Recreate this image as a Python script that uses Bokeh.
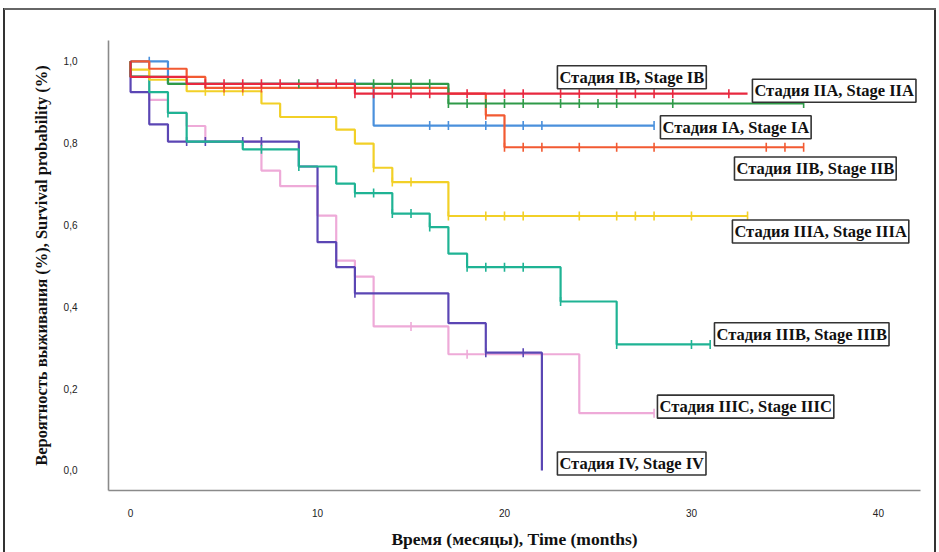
import numpy as np
from bokeh.plotting import figure
from bokeh.models import Label, CustomJSTickFormatter, FixedTicker, Range1d
from bokeh.embed import file_html
from bokeh.resources import INLINE

# ---- data ----
ia_t = [0, 2, 13, 28]
ia_s = [1.0, 0.945, 0.843, 0.843]
ia_c = [1, 10, 12, 16, 17, 19, 21, 22, 28]

ib_t = [0, 0, 3, 12, 33]
ib_s = [1.0, 0.962, 0.945, 0.921, 0.921]
ib_c = [4, 5, 6, 7, 8, 10, 11, 12, 13, 14, 15, 16, 18, 20, 21, 23, 24, 26, 27, 28, 29, 32]

iia_t = [0, 0, 2, 17, 36]
iia_s = [1.0, 0.962, 0.945, 0.897, 0.897]
iia_c = [9, 13, 14, 15, 16, 17, 18, 19, 20, 21, 23, 24, 25, 26, 29, 36]

iib_t = [0, 1, 3, 4, 17, 19, 20, 36]
iib_s = [1.0, 0.982, 0.962, 0.935, 0.921, 0.868, 0.79, 0.79]
iib_c = [5, 6, 7, 19, 20, 21, 22, 24, 26, 28, 34, 35, 36]

iiia_t = [0, 0, 1, 3, 7, 8, 11, 12, 13, 14, 17, 33]
iiia_s = [1.0, 0.98, 0.955, 0.927, 0.897, 0.864, 0.833, 0.799, 0.74, 0.705, 0.622, 0.622]
iiia_c = [4, 5, 6, 13, 14, 15, 17, 19, 20, 21, 24, 26, 27, 28, 30, 33]

iiib_t = [0, 0, 1, 2, 3, 6, 9, 11, 12, 14, 16, 17, 18, 23, 26, 31]
iiib_s = [1.0, 0.963, 0.925, 0.874, 0.804, 0.785, 0.743, 0.701, 0.678, 0.628, 0.595,
          0.53, 0.497, 0.413, 0.308, 0.308]
iiib_c = [2, 7, 9, 12, 13, 14, 15, 16, 18, 19, 20, 21, 23, 26, 30, 31]

iiic_t = [0, 1, 2, 3, 4, 7, 8, 10, 11, 12, 13, 17, 24, 28]
iiic_s = [1.0, 0.906, 0.874, 0.842, 0.804, 0.733, 0.695, 0.623, 0.513, 0.474, 0.352,
          0.284, 0.14, 0.14]
iiic_c = [15, 18, 28]

iv_t = [0, 0, 1, 2, 9, 10, 11, 12, 17, 19, 22, 22]
iv_s = [1.0, 0.925, 0.846, 0.804, 0.743, 0.558, 0.497, 0.433, 0.36, 0.288, 0.288, 0.0]
iv_c = [3, 4, 6, 7, 12, 19, 21]

x_ticks = [0, 10, 20, 30, 40]
y_ticks = [0.0, 0.2, 0.4, 0.6, 0.8, 1.0]

labels = ["Стадия IA, Stage IA", "Стадия IB, Stage IB", "Стадия IIA, Stage IIA",
          "Стадия IIB, Stage IIB", "Стадия IIIA, Stage IIIA", "Стадия IIIB, Stage IIIB",
          "Стадия IIIC, Stage IIIC", "Стадия IV, Stage IV"]
x_title = "Время (месяцы), Time (months)"
y_title = "Вероятность выживания (%), Survival probability (%)"

curves = [
    (iiic_t, iiic_s, iiic_c, "#eeaad8"),
    (iv_t, iv_s, iv_c, "#5b46b4"),
    (iiib_t, iiib_s, iiib_c, "#1fb394"),
    (iiia_t, iiia_s, iiia_c, "#f2d027"),
    (ia_t, ia_s, ia_c, "#4a90dc"),
    (iib_t, iib_s, iib_c, "#f25a32"),
    (iia_t, iia_s, iia_c, "#2f9a48"),
    (ib_t, ib_s, ib_c, "#e8283f"),
]

p = figure(width=939, height=552, output_backend="svg", toolbar_location=None,
           x_range=Range1d(-1.18, 42.25), y_range=Range1d(-0.049, 1.051),
           min_border_left=108, min_border_top=40, min_border_right=19, min_border_bottom=62)
p.styles = {"background": ("linear-gradient(#666,#666) 4px 8px / 932px 2px no-repeat, "
                           "linear-gradient(#333,#333) 3px 8px / 2px 560px no-repeat, "
                           "linear-gradient(#333,#333) 934px 8px / 2px 560px no-repeat")}
p.outline_line_color = None
p.grid.grid_line_color = None
p.background_fill_color = "white"
p.border_fill_alpha = 0

for t, s, c, col in curves:
    p.step(t, s, mode="after", line_color=col, line_width=2.2)
    ta = np.array(t, dtype=float)
    sa = np.array(s, dtype=float)
    idx = np.searchsorted(ta, np.array(c, dtype=float), side="right") - 1
    idx = np.clip(idx, 0, len(sa) - 1)
    cy = sa[idx]
    p.scatter(c, cy, marker="dash", angle=np.pi / 2, size=9, line_color=col, line_width=1.6)

# axes
for ax in (p.xaxis[0], p.yaxis[0]):
    ax.axis_line_color = "#8a8a8a"
    ax.axis_line_width = 1.6
    ax.major_tick_line_color = None
    ax.minor_tick_line_color = None
    ax.major_label_text_font = "Liberation Sans Narrow, Liberation Sans"
    ax.major_label_text_font_size = "10px"
    ax.major_label_text_color = "#222222"
    ax.axis_label_text_font = "Liberation Serif"
    ax.axis_label_text_font_style = "bold"
    ax.axis_label_text_color = "#111111"

p.xaxis.ticker = FixedTicker(ticks=x_ticks)
p.yaxis.ticker = FixedTicker(ticks=y_ticks)
p.yaxis.formatter = CustomJSTickFormatter(code="return tick.toFixed(1).replace('.', ',');")
p.xaxis.major_label_standoff = 12
p.yaxis.major_label_standoff = 25
p.xaxis.axis_label = x_title
p.yaxis.axis_label = y_title
p.xaxis.axis_label_text_font_size = "17.5px"
p.yaxis.axis_label_text_font_size = "16.5px"
p.xaxis.axis_label_standoff = 9
p.yaxis.axis_label_standoff = 10

# stage labels (left edge in months, vertical centre in probability)
label_pos = [(28.34, 0.839), (22.83, 0.961), (33.26, 0.928), (32.3, 0.738),
             (32.19, 0.584), (31.23, 0.333), (28.18, 0.156), (22.83, 0.017)]
for txt, (lx, ly) in zip(labels, label_pos):
    p.add_layout(Label(x=lx, y=ly, text=txt, text_align="left", text_baseline="middle",
                       text_font="Liberation Serif", text_font_style="bold",
                       text_font_size="16.5px", text_color="#111111",
                       background_fill_color="white", border_line_color="#333333",
                       border_line_width=1.6, padding=2))

open("out.html", "w").write(file_html(p, INLINE))
